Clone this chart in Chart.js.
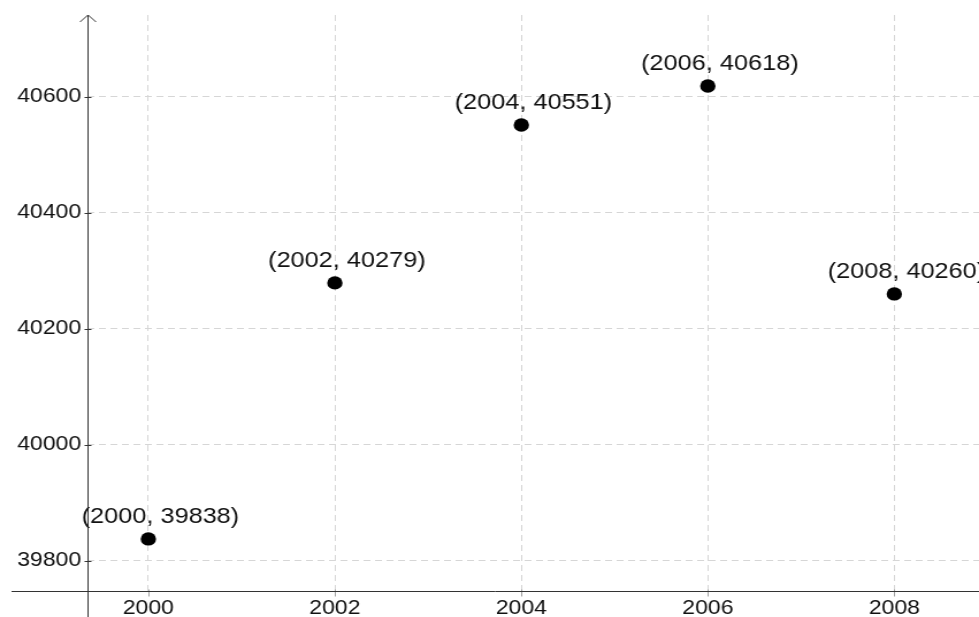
<!DOCTYPE html>
<html>
<head>
<meta charset="utf-8">
<script src="https://cdn.jsdelivr.net/npm/chart.js@4"></script>
<style>
  html, body { margin: 0; padding: 0; background: #fff; overflow: hidden; }
  /* the reference is slightly stretched sideways, so the canvas is too */
  #chart { display: block; width: 979px !important; height: 617px !important; }
</style>
</head>
<body>
<canvas id="chart" width="851" height="617"></canvas>
<script>
let years = [2000, 2002, 2004, 2006, 2008];
let values = [39838, 40279, 40551, 40618, 40260];
let xTicks = [2000, 2002, 2004, 2006, 2008];
let yTicks = [39800, 40000, 40200, 40400, 40600];

let tickFont = { family: '"Liberation Sans", Arial, sans-serif', size: 20 };

// axis lines, arrow and small tick marks
const axesLines = {
  id: 'axesLines',
  beforeDatasetsDraw(chart) {
    const { ctx, chartArea: a, scales: { x, y } } = chart;
    const ax = Math.round(a.left) + 0.5;
    const ay = Math.round(a.bottom) + 0.5;
    ctx.save();
    ctx.lineWidth = 1;
    ctx.strokeStyle = '#a0a0a0';
    ctx.beginPath();
    xTicks.forEach(v => {
      let px = Math.round(x.getPixelForValue(v)) + 0.5;
      ctx.moveTo(px, ay - 2);
      ctx.lineTo(px, ay + 5);
    });
    ctx.stroke();
    ctx.strokeStyle = '#333';
    ctx.beginPath();
    ctx.moveTo(ax, chart.height);
    ctx.lineTo(ax, a.top);
    ctx.moveTo(ax - 7, a.top + 7);
    ctx.lineTo(ax, a.top);
    ctx.lineTo(ax + 7, a.top + 7);
    ctx.moveTo(10, ay);
    ctx.lineTo(chart.width, ay);
    yTicks.forEach(v => {
      let py = Math.round(y.getPixelForValue(v)) + 0.5;
      ctx.moveTo(ax - 3, py);
      ctx.lineTo(ax + 3, py);
    });
    ctx.stroke();
    ctx.restore();
  }
};

// "(year, value)" text above each point
const pointLabels = {
  id: 'pointLabels',
  afterDatasetsDraw(chart) {
    const ctx = chart.ctx;
    const meta = chart.getDatasetMeta(0);
    ctx.save();
    ctx.font = '22px "Liberation Sans", Arial, sans-serif';
    ctx.fillStyle = '#111';
    ctx.textAlign = 'left';
    ctx.textBaseline = 'alphabetic';
    meta.data.forEach((pt, i) => {
      ctx.fillText('(' + years[i] + ', ' + values[i] + ')', pt.x - 58, pt.y - 16);
    });
    ctx.restore();
  }
};

let ctx = document.getElementById('chart').getContext('2d');
let chart = new Chart(ctx, {
  type: 'scatter',
  data: {
    datasets: [{
      data: years.map((yr, i) => ({ x: yr, y: values[i] })),
      backgroundColor: '#000',
      borderWidth: 0,
      pointRadius: 6.7,
      pointHoverRadius: 6.7,
      clip: false
    }]
  },
  options: {
    responsive: false,
    devicePixelRatio: 1,
    animation: false,
    layout: { autoPadding: false, padding: { top: 15, left: 0, right: 0, bottom: 0 } },
    plugins: { legend: { display: false }, tooltip: { enabled: false } },
    scales: {
      x: {
        type: 'linear',
        min: 1999.342,
        max: 2008.908,
        afterBuildTicks: s => { s.ticks = xTicks.map(v => ({ value: v })); },
        afterFit: s => { s.height = 26; s.paddingLeft = 0; s.paddingRight = 0; },
        grid: { color: '#d6d6d6', drawTicks: false },
        border: { display: false, dash: [6, 4] },
        ticks: {
          color: '#111', font: tickFont, padding: 5,
          maxRotation: 0, autoSkip: false,
          callback: v => String(v)
        }
      },
      y: {
        type: 'linear',
        min: 39748.3,
        max: 40740.4,
        afterBuildTicks: s => { s.ticks = yTicks.map(v => ({ value: v })); },
        afterFit: s => { s.width = 75.6; s.paddingTop = 0; s.paddingBottom = 0; },
        grid: { color: '#d6d6d6', drawTicks: false },
        border: { display: false, dash: [6, 4] },
        ticks: {
          color: '#111', font: tickFont, padding: 5,
          autoSkip: false,
          callback: v => String(v)
        }
      }
    }
  },
  plugins: [axesLines, pointLabels]
});
</script>
</body>
</html>
